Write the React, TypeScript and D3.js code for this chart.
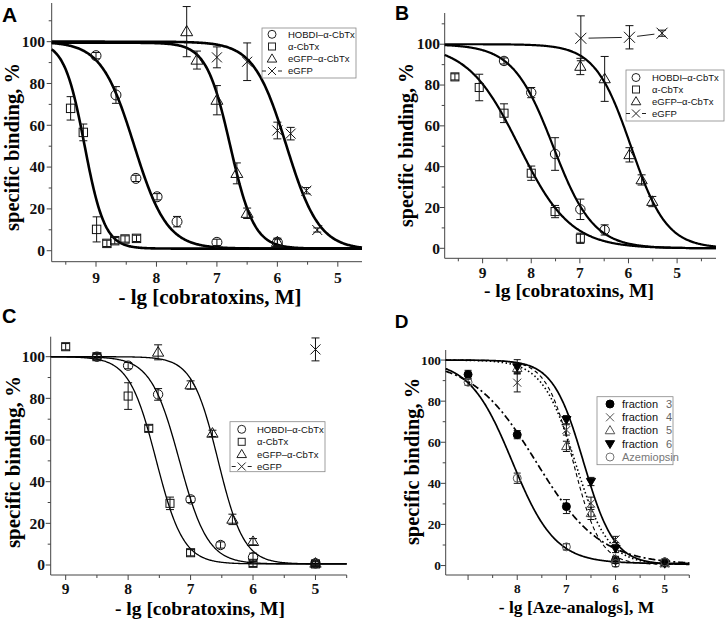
import React from 'react';
import * as d3 from 'd3';

type Pt = [number, number, number]; // [-lg C, specific binding %, error]
type Fit = [number, number, number, number]; // [pIC50, Hill slope, top, bottom]

// ---------- Panel A ----------
const A_hobdi: Pt[] = [[9.0, 93.3, 1.5], [8.67, 74.5, 4], [8.34, 34.6, 1.5], [7.99, 25.8, 1.5], [7.66, 13.9, 2.5], [7.0, 4.0, 1.5], [6.0, 4.0, 1.5]];
const A_cbtx: Pt[] = [[9.42, 68.1, 5.6], [9.21, 56.6, 4], [8.99, 10.2, 6], [8.82, 3.5, 1.5], [8.69, 4.8, 1.5], [8.52, 5.6, 1.5], [8.33, 5.9, 1.5]];
const A_egfpCbtx: Pt[] = [[7.5, 104.8, 12], [7.33, 91.2, 4.3], [7.0, 72, 7], [6.67, 37, 5], [6.5, 17.9, 2.5], [6.0, 4.0, 2]];
const A_egfp: Pt[] = [[7.0, 92.5, 5], [6.5, 90.4, 9], [6.0, 57.5, 4], [5.78, 56, 3], [5.52, 28.7, 1.5], [5.34, 9.9, 1]];
const A_fit_hobdi: Fit = [8.37, 1.6, 100, 1];
const A_fit_cbtx: Fit = [9.19, 2.6, 100, 1];
const A_fit_egfpCbtx: Fit = [6.78, 2.2, 99.5, 1];
const A_fit_egfp: Fit = [5.85, 1.6, 100, 0.5];

// ---------- Panel B ----------
const B_hobdi: Pt[] = [[8.56, 91.8, 1.5], [8.0, 76.3, 2.5], [7.51, 46.2, 8], [6.99, 19.1, 5], [6.49, 9.0, 2.5]];
const B_cbtx: Pt[] = [[9.57, 84, 1.5], [9.07, 78.8, 6.5], [8.56, 66.2, 4.6], [8.0, 36.8, 3.5], [7.51, 18.0, 3], [6.99, 4.9, 2.5]];
const B_egfpCbtx: Pt[] = [[6.99, 89.1, 4], [6.49, 83.0, 11], [5.98, 45.8, 3.5], [5.73, 33.5, 2.5], [5.51, 22.9, 2.5]];
const B_egfp: Pt[] = [[6.98, 102.9, 11], [5.98, 103.4, 5.7], [5.31, 105.4, 1.5]];
const B_fit_hobdi: Fit = [7.55, 1.05, 100, 0];
const B_fit_cbtx: Fit = [8.25, 0.82, 100, 0];
const B_fit_egfpCbtx: Fit = [5.95, 1.18, 100, 0];

// ---------- Panel C ----------
const C_hobdi: Pt[] = [[8.5, 100, 1], [8.0, 95.7, 1.5], [7.52, 81.9, 2.8], [7.0, 31.5, 1.5], [6.52, 9.6, 1.5], [6.0, 3.7, 2], [5.0, 0.8, 1.5]];
const C_cbtx: Pt[] = [[9.0, 104.8, 1.5], [8.5, 100, 1.5], [8.0, 81.1, 6.4], [7.67, 65.6, 1.5], [7.33, 29.6, 3], [7.0, 5.9, 1.5], [6.0, 0.8, 1.5], [5.0, 0.5, 1]];
const C_egfpCbtx: Pt[] = [[7.52, 102.1, 3.6], [7.0, 86.4, 2], [6.65, 63.2, 1.5], [6.33, 21.9, 2.5], [6.0, 11.2, 1.5], [5.0, 0.8, 1]];
const C_egfp: Pt[] = [[5.0, 103.5, 5.5]];
const C_fit_hobdi: Fit = [7.18, 1.9, 100, 0.5];
const C_fit_cbtx: Fit = [7.55, 2.0, 100, 0.5];
const C_fit_egfpCbtx: Fit = [6.56, 2.1, 100, 0.5];

// ---------- Panel D ----------
const D_f3: Pt[] = [[9.0, 93, 2], [8.0, 63.7, 2], [7.0, 28.7, 3.4], [6.0, 2.6, 1.5], [5.0, 1.8, 1]];
const D_f4: Pt[] = [[8.0, 89, 4.5], [7.0, 66, 2.5], [6.5, 30.3, 3], [6.0, 12.7, 1.5], [5.0, 1, 1]];
const D_f5: Pt[] = [[8.0, 96, 2], [7.0, 58, 2.5], [6.5, 25.4, 3], [6.0, 3, 1.5], [5.0, 1, 1]];
const D_f6: Pt[] = [[8.0, 96.7, 3.5], [7.0, 71, 2], [6.5, 40.9, 2], [6.0, 8.3, 2], [5.0, 1, 1]];
const D_aze: Pt[] = [[9.0, 89.2, 1.5], [8.0, 42.5, 2.5], [7.0, 9.1, 1.5], [6.0, 1.0, 1.5], [5.0, 1.8, 1]];
const D_fit_f3: Fit = [7.61, 0.67, 100, 0.5];
const D_fit_f4: Fit = [6.82, 1.3, 100, 0.5];
const D_fit_f5: Fit = [6.86, 1.6, 100, 0.5];
const D_fit_f6: Fit = [6.65, 1.4, 100, 0.5];
const D_fit_aze: Fit = [8.1, 1.0, 100, 1];

const cobraNames = ['HOBDI–α-CbTx', 'α-CbTx', 'eGFP–α-CbTx', 'eGFP'];
const azeNames = ['fraction', 'fraction', 'fraction', 'fraction', 'Azemiopsin'];
const azeNums = ['3', '4', '5', '6', ''];
const yMajor = [0, 20, 40, 60, 80, 100];
const yMinor = [10, 30, 50, 70, 90, 110];
const xMajor = [9, 8, 7, 6, 5];
const xMinor = [9.5, 8.5, 7.5, 6.5, 5.5, 4.5];

const serif = "'Liberation Serif','Times New Roman',Times,serif";
const sans = "'Liberation Sans',Arial,Helvetica,sans-serif";

const hill = (x: number, f: Fit) => f[3] + (f[2] - f[3]) / (1 + Math.pow(10, f[1] * (f[0] - x)));

function Marker({ kind, x, y, r, color = '#111', sw = 1 }: any) {
  switch (kind) {
    case 'circle':
      return <circle cx={x} cy={y} r={r} fill="none" stroke={color} strokeWidth={sw} />;
    case 'dot':
      return <circle cx={x} cy={y} r={r} fill="#000" stroke="#000" strokeWidth={sw} />;
    case 'square': {
      const s = r * 1.75;
      return <rect x={x - s / 2} y={y - s / 2} width={s} height={s} fill="none" stroke={color} strokeWidth={sw} />;
    }
    case 'triangle': {
      const w = r * 2.4, h = w * 0.85;
      return <polygon points={`${x},${y - h * 0.6} ${x - w / 2},${y + h * 0.4} ${x + w / 2},${y + h * 0.4}`} fill="none" stroke={color} strokeWidth={sw} />;
    }
    case 'tridown': {
      const w = r * 2.3, h = w * 0.85;
      return <polygon points={`${x},${y + h * 0.6} ${x - w / 2},${y - h * 0.4} ${x + w / 2},${y - h * 0.4}`} fill="#000" stroke="#000" strokeWidth={sw} />;
    }
    case 'x':
      return (
        <g stroke={color} strokeWidth={sw}>
          <line x1={x - r} y1={y - r} x2={x + r} y2={y + r} />
          <line x1={x - r} y1={y + r} x2={x + r} y2={y - r} />
        </g>
      );
    default:
      return null;
  }
}

function Panel({ cfg }: any) {
  const x = d3.scaleLinear().domain(cfg.xDom).range(cfg.xRange);
  const y = d3.scaleLinear().domain(cfg.yDom).range(cfg.yRange);
  const axX = cfg.xRange[0];
  const axY = cfg.yRange[0];
  const inX = (v: number) => v <= cfg.xDom[0] + 1e-6 && v >= cfg.xDom[1] - 1e-6;
  const inY = (v: number) => v >= cfg.yDom[0] && v <= cfg.yDom[1];
  const samples = d3.range(0, 401).map((i) => cfg.xDom[0] + ((cfg.xDom[1] - cfg.xDom[0]) * i) / 400);
  const lg = cfg.legend;
  return (
    <g>
      <text x={cfg.label[0]} y={cfg.label[1]} fontFamily={sans} fontWeight="bold" fontSize={cfg.label[2]} fill="#000">
        {cfg.label[3]}
      </text>
      {/* axes */}
      <g stroke="#444" strokeWidth={1}>
        <line x1={axX} y1={axY} x2={cfg.xRange[1]} y2={axY} />
        <line x1={axX} y1={axY} x2={axX} y2={cfg.yRange[1]} />
        {xMajor.filter(inX).map((v) => (
          <line key={'xM' + v} x1={x(v)} x2={x(v)} y1={axY} y2={axY + 5} />
        ))}
        {xMinor.filter(inX).map((v) => (
          <line key={'xm' + v} x1={x(v)} x2={x(v)} y1={axY} y2={axY + 3} />
        ))}
        {yMajor.filter(inY).map((v) => (
          <line key={'yM' + v} x1={axX} x2={axX - 5} y1={y(v)} y2={y(v)} />
        ))}
        {yMinor.filter(inY).map((v) => (
          <line key={'ym' + v} x1={axX} x2={axX - 3} y1={y(v)} y2={y(v)} />
        ))}
      </g>
      <g fontFamily={serif} fontWeight="bold" fontSize={cfg.tickFont} fill="#111">
        {xMajor.filter(inX).filter((v) => !cfg.hideX || !cfg.hideX.includes(v)).map((v) => (
          <text key={'xl' + v} x={x(v)} y={axY + cfg.xTickDy} textAnchor="middle">{v}</text>
        ))}
        {yMajor.filter(inY).map((v) => (
          <text key={'yl' + v} x={axX - cfg.yTickDx} y={y(v) + cfg.tickFont * 0.34} textAnchor="end">{v}</text>
        ))}
      </g>
      <text x={cfg.xTitle[1]} y={cfg.xTitle[2]} textAnchor="middle" fontFamily={serif} fontWeight="bold" fontSize={cfg.xTitle[3]} fill="#000">
        {cfg.xTitle[0]}
      </text>
      <text transform={`translate(${cfg.yTitle[0]},${cfg.yTitle[1]}) rotate(-90)`} textAnchor="middle" fontFamily={serif} fontWeight="bold" fontSize={cfg.yTitle[2]} fill="#000">
        specific binding, %
      </text>
      {/* fitted curves */}
      {cfg.series.filter((s: any) => s.fit).map((s: any, i: number) => {
        const gen = d3.line<number>().x((v) => x(v)).y((v) => y(hill(v, s.fit)));
        return <path key={'c' + i} d={gen(samples) || ''} fill="none" stroke="#000" strokeWidth={s.lw || cfg.curveW} strokeDasharray={s.dash || undefined} />;
      })}
      {/* connected series */}
      {cfg.series.filter((s: any) => s.connect).map((s: any, i: number) => {
        const segs: any[] = [];
        for (let k = 0; k < s.pts.length - 1; k++) {
          const x1 = x(s.pts[k][0]), y1 = y(s.pts[k][1]);
          const x2 = x(s.pts[k + 1][0]), y2 = y(s.pts[k + 1][1]);
          const len = Math.hypot(x2 - x1, y2 - y1);
          const g = (cfg.ms + 3) / len;
          segs.push(<line key={k} x1={x1 + (x2 - x1) * g} y1={y1 + (y2 - y1) * g} x2={x2 - (x2 - x1) * g} y2={y2 - (y2 - y1) * g} stroke="#222" strokeWidth={1} />);
        }
        return <g key={'cn' + i}>{segs}</g>;
      })}
      {/* error bars + markers */}
      {cfg.series.map((s: any, i: number) => (
        <g key={'s' + i}>
          {s.pts.map((p: Pt, k: number) => {
            const cx = x(p[0]), cy = y(p[1]);
            const t = y(p[1] + p[2]), b = y(p[1] - p[2]);
            const cw = cfg.cap;
            return (
              <g key={k}>
                <g stroke="#111" strokeWidth={1}>
                  <line x1={cx} x2={cx} y1={t} y2={b} />
                  <line x1={cx - cw} x2={cx + cw} y1={t} y2={t} />
                  <line x1={cx - cw} x2={cx + cw} y1={b} y2={b} />
                </g>
                <Marker kind={s.marker} x={cx} y={cy} r={s.ms || cfg.ms} color={s.color || '#111'} />
              </g>
            );
          })}
        </g>
      ))}
      {/* legend */}
      <g>
        <rect x={lg.x} y={lg.y} width={lg.w} height={lg.h} fill="#fff" stroke="#888" strokeWidth={0.8} />
        {lg.items.map((it: any, i: number) => (
          <g key={'lg' + i}>
            {it.dashX && (
              <g stroke="#222" strokeWidth={1}>
                <line x1={lg.mx - 10} x2={lg.mx - 6} y1={lg.rows[i]} y2={lg.rows[i]} />
                <line x1={lg.mx + 6} x2={lg.mx + 10} y1={lg.rows[i]} y2={lg.rows[i]} />
              </g>
            )}
            <Marker kind={it.marker} x={lg.mx} y={lg.rows[i]} r={lg.ms} color={it.color || '#222'} />
            <text x={lg.tx} y={lg.rows[i] + lg.font * 0.36} fontFamily={sans} fontSize={lg.font} fill={it.tcolor || '#111'}>
              {it.label}
            </text>
            {it.num && (
              <text x={lg.nx} y={lg.rows[i] + lg.font * 0.36} fontFamily={sans} fontSize={lg.font} fill="#666" textAnchor="middle">
                {it.num}
              </text>
            )}
          </g>
        ))}
      </g>
    </g>
  );
}

export default function App() {
  const cobraLegend = () => [
    { marker: 'circle', label: cobraNames[0] },
    { marker: 'square', label: cobraNames[1] },
    { marker: 'triangle', label: cobraNames[2] },
    { marker: 'x', label: cobraNames[3], dashX: true },
  ];
  const panels = [
    {
      label: [2, 21.7, 21, 'A'],
      xDom: [9.733, 4.6], xRange: [51.7, 362], yDom: [-5.26, 118.5], yRange: [261.7, 3],
      tickFont: 15.5, xTickDy: 21.5, yTickDx: 6.7,
      xTitle: ['- lg [cobratoxins, M]', 210, 304, 21], yTitle: [19, 147, 20.5],
      curveW: 2.6, ms: 5, cap: 4,
      series: [
        { pts: A_hobdi, marker: 'circle', fit: A_fit_hobdi },
        { pts: A_cbtx, marker: 'square', fit: A_fit_cbtx, ms: 4.8 },
        { pts: A_egfpCbtx, marker: 'triangle', fit: A_fit_egfpCbtx },
        { pts: A_egfp, marker: 'x', fit: A_fit_egfp },
      ],
      legend: { x: 262, y: 28, w: 94, h: 50, rows: [34.3, 46.5, 58.8, 71], mx: 272, tx: 288, ms: 4, font: 9.5, items: cobraLegend() },
    },
    {
      label: [395, 20, 19.5, 'B'],
      xDom: [9.78, 4.2], xRange: [444.7, 716], yDom: [-4.9, 115.3], yRange: [258.3, 13],
      tickFont: 15.5, xTickDy: 19.7, yTickDx: 4.7,
      xTitle: ['- lg [cobratoxins, M]', 569, 297, 19.5], yTitle: [413, 145, 20],
      curveW: 2.2, ms: 4.7, cap: 4,
      series: [
        { pts: B_hobdi, marker: 'circle', fit: B_fit_hobdi },
        { pts: B_cbtx, marker: 'square', fit: B_fit_cbtx, ms: 4.6 },
        { pts: B_egfpCbtx, marker: 'triangle', fit: B_fit_egfpCbtx },
        { pts: B_egfp, marker: 'x', connect: true, ms: 5.5 },
      ],
      legend: { x: 626, y: 70, w: 98, h: 51, rows: [77.5, 89.5, 101.5, 113.5], mx: 636, tx: 652, ms: 4, font: 9.5, items: cobraLegend() },
    },
    {
      label: [2, 323, 20, 'C'],
      xDom: [9.24, 4.5], xRange: [50.7, 346.7], yDom: [-4.8, 109.6], yRange: [575, 336.7],
      tickFont: 15.5, xTickDy: 18.5, yTickDx: 5.7,
      xTitle: ['- lg [cobratoxins, M]', 200, 614.5, 19.5], yTitle: [19.5, 462, 21],
      curveW: 1.3, ms: 4.7, cap: 4,
      series: [
        { pts: C_hobdi, marker: 'circle', fit: C_fit_hobdi },
        { pts: C_cbtx, marker: 'square', fit: C_fit_cbtx, ms: 4.6 },
        { pts: C_egfpCbtx, marker: 'triangle', fit: C_fit_egfpCbtx },
        { pts: C_egfp, marker: 'x', ms: 5 },
      ],
      legend: { x: 230, y: 421.7, w: 95, h: 50, rows: [429.3, 441.8, 454.3, 466.5], mx: 241.7, tx: 257, ms: 4, font: 9.5, items: cobraLegend() },
    },
    {
      label: [394.7, 328, 19, 'D'],
      xDom: [9.455, 4.5], xRange: [445.7, 689.3], yDom: [-4.6, 104.9], yRange: [575, 350],
      tickFont: 13.3, xTickDy: 18, yTickDx: 4.7, hideX: [9],
      xTitle: ['- lg [Aze-analogs], M', 576.5, 612.7, 17.5], yTitle: [418.5, 461.5, 20.4],
      curveW: 1.4, ms: 4, cap: 3.5,
      series: [
        { pts: D_f3, marker: 'dot', fit: D_fit_f3, dash: '7,3,2,3', lw: 1.7 },
        { pts: D_f4, marker: 'x', fit: D_fit_f4, dash: '1.5,2.5', lw: 1.6, color: '#333' },
        { pts: D_f5, marker: 'triangle', fit: D_fit_f5, dash: '4,3', lw: 1.1, color: '#444' },
        { pts: D_f6, marker: 'tridown', fit: D_fit_f6, lw: 1.7 },
        { pts: D_aze, marker: 'circle', fit: D_fit_aze, lw: 1.7, color: '#555' },
      ],
      legend: {
        x: 597, y: 396.7, w: 76, h: 68, rows: [404, 417.3, 430.5, 443.8, 457], mx: 610, tx: 622, nx: 669, ms: 4, font: 11,
        items: [
          { marker: 'dot', label: azeNames[0], num: azeNums[0] },
          { marker: 'x', label: azeNames[1], num: azeNums[1], color: '#555' },
          { marker: 'triangle', label: azeNames[2], num: azeNums[2], color: '#555' },
          { marker: 'tridown', label: azeNames[3], num: azeNums[3] },
          { marker: 'circle', label: azeNames[4], color: '#777', tcolor: '#777' },
        ],
      },
    },
  ];
  return (
    <div style={{ position: 'absolute', left: 0, top: 0, background: '#fff' }}>
      <svg width={726} height={619} viewBox="0 0 726 619" style={{ display: 'block', background: '#fff' }}>
        {panels.map((p, i) => (
          <Panel key={i} cfg={p} />
        ))}
      </svg>
    </div>
  );
}
